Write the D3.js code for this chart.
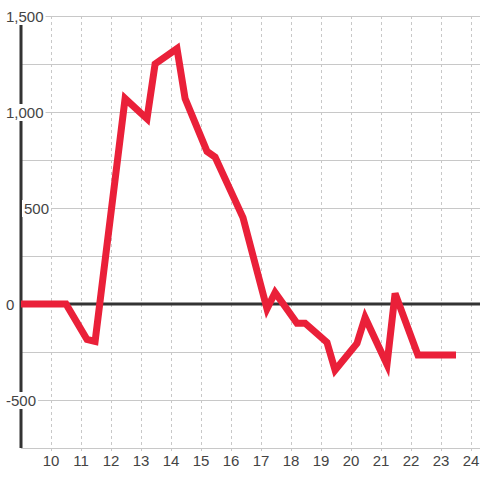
<!DOCTYPE html>
<html>
<head>
<meta charset="utf-8">
<script src="https://cdn.jsdelivr.net/npm/d3@7"></script>
<style>
  body { margin: 0; background: #fff; }
  svg { display: block; font-family: 'Liberation Sans', Arial, sans-serif; }
</style>
</head>
<body>
<div id="chart"></div>
<script>
// data
var hours = [9, 10.5, 11.2, 11.47, 12.47, 13.2, 13.47, 14.2, 14.47, 15.2, 15.47, 16.4,
  17.2, 17.47, 18.2, 18.47, 19.2, 19.47, 20.2, 20.47, 21.2, 21.47, 22.23, 23.5]
var values = [0, 0, -185, -195, 1070, 965, 1250, 1330, 1070, 795, 765, 450,
  -25, 60, -100, -100, -200, -345, -205, -70, -315, 55, -265, -265]
var xTicks = [10, 11, 12, 13, 14, 15, 16, 17, 18, 19, 20, 21, 22, 23, 24]
var yGrid = [-750, -500, -250, 0, 250, 500, 750, 1000, 1250, 1500]
var yLabels = [-500, 0, 500, 1000, 1500]

var width = 480
var height = 480
var margin = { top: 16, left: 21, right: 0, bottom: 32 }

var svg = d3.select('#chart')
  .append('svg')
  .attr('width', width)
  .attr('height', height)

var xPositionScale = d3.scaleLinear()
  .domain([9, 24.3])
  .range([margin.left, width - margin.right])
var yPositionScale = d3.scaleLinear()
  .domain([-750, 1500])
  .range([height - margin.bottom, margin.top])

// vertical dashed grid
svg.append('g')
  .selectAll('line')
  .data(xTicks)
  .enter()
  .append('line')
  .attr('x1', d => Math.round(xPositionScale(d)) + 0.5)
  .attr('x2', d => Math.round(xPositionScale(d)) + 0.5)
  .attr('y1', yPositionScale(1500))
  .attr('y2', yPositionScale(-750) + 5)
  .attr('stroke', '#c8c8c8')
  .attr('stroke-dasharray', '3,3')

// horizontal grid
svg.append('g')
  .selectAll('line')
  .data(yGrid)
  .enter()
  .append('line')
  .attr('x1', margin.left)
  .attr('x2', width)
  .attr('y1', d => Math.round(yPositionScale(d)) + 0.5)
  .attr('y2', d => Math.round(yPositionScale(d)) + 0.5)
  .attr('stroke', '#c8c8c8')

// zero line
svg.append('line')
  .attr('x1', margin.left)
  .attr('x2', width)
  .attr('y1', yPositionScale(0))
  .attr('y2', yPositionScale(0))
  .attr('stroke', '#333')
  .attr('stroke-width', 3)

// y axis line
svg.append('line')
  .attr('x1', margin.left)
  .attr('x2', margin.left)
  .attr('y1', yPositionScale(1500))
  .attr('y2', yPositionScale(-750))
  .attr('stroke', '#333')
  .attr('stroke-width', 3)

var line = d3.line()
  .x((d, i) => xPositionScale(hours[i]))
  .y(d => yPositionScale(d))

svg.append('path')
  .datum(values)
  .attr('d', line)
  .attr('fill', 'none')
  .attr('stroke', '#ea2039')
  .attr('stroke-width', 7)
  .attr('stroke-linejoin', 'miter')

// y labels with white backing (plain hyphen for negatives)
// the 500 label sits just right of the axis in the original
var fmt = d => d3.format(',')(d).replace('\u2212', '-')
var yLab = svg.append('g')
  .selectAll('g')
  .data(yLabels)
  .enter()
  .append('g')
  .attr('transform', d => 'translate(' + (d === 500 ? 24 : 6) + ',' + yPositionScale(d) + ')')

yLab.append('text')
  .text(fmt)
  .attr('y', 5.5)
  .attr('font-size', 15)
  .attr('fill', '#444')
  .each(function() {
    var bb = this.getBBox()
    d3.select(this.parentNode)
      .insert('rect', 'text')
      .attr('x', bb.x - 2)
      .attr('y', -8)
      .attr('width', bb.width + 4)
      .attr('height', 17)
      .attr('fill', '#fff')
  })

// x labels
svg.append('g')
  .selectAll('text')
  .data(xTicks)
  .enter()
  .append('text')
  .text(d => d)
  .attr('x', d => xPositionScale(d))
  .attr('y', 466)
  .attr('text-anchor', 'middle')
  .attr('font-size', 15)
  .attr('fill', '#444')
</script>
</body>
</html>
